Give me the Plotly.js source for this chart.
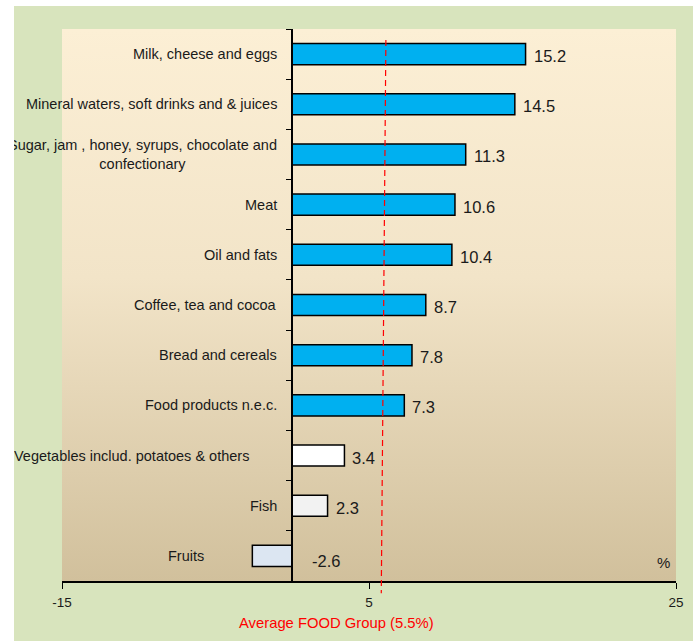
<!DOCTYPE html>
<html>
<head>
<meta charset="utf-8">
<script src="https://cdn.plot.ly/plotly-3.0.1.min.js"></script>
<style>
  html, body { margin: 0; padding: 0; background: #ffffff; overflow: hidden; }
  #chart { position: absolute; left: 14px; top: 6px; width: 679px; height: 635px; }
</style>
</head>
<body>
<div id="chart"></div>
<script>
// ---- data (top to bottom) ----
const categories = [
  "Milk, cheese and eggs",
  "Mineral waters, soft drinks and & juices",
  "Sugar, jam , honey, syrups, chocolate and<br>confectionary",
  "Meat",
  "Oil and fats",
  "Coffee, tea and cocoa",
  "Bread and cereals",
  "Food products n.e.c.",
  "Vegetables includ. potatoes & others",
  "Fish",
  "Fruits"
];
const values = [15.2, 14.5, 11.3, 10.6, 10.4, 8.7, 7.8, 7.3, 3.4, 2.3, -2.6];
const valueLabels = ["15.2", "14.5", "11.3", "10.6", "10.4", "8.7", "7.8", "7.3", "3.4", "2.3", "-2.6"];
const xTickVals = [-15, 5, 25];
const xTickText = ["-15", "5", "25"];
const avgFood = 5.5;                 // average FOOD group
const avgLineX = [6.1, 5.8];         // dashed line as drawn (top, bottom)
const avgLabel = "Average FOOD Group (5.5%)";

// ---- styles ----
const barColors = ["#00B0F0","#00B0F0","#00B0F0","#00B0F0","#00B0F0","#00B0F0","#00B0F0","#00B0F0",
                   "#FFFFFF","#F2F2F2","#DCE6F2"];
const labelShift = [0,0,0,0,0,0,0,0,-28,0,-73];   // px offsets of category labels
const FONT = "'Liberation Sans', Arial, sans-serif";
const xRange = [-15, 25];

const gradSvg = '<svg xmlns="http://www.w3.org/2000/svg" width="10" height="100" preserveAspectRatio="none">' +
  '<defs><linearGradient id="g" x1="0" y1="0" x2="0" y2="1">' +
  '<stop offset="0" stop-color="#FCEFD5"/><stop offset="0.45" stop-color="#F2E4C8"/>' +
  '<stop offset="1" stop-color="#D1C09C"/></linearGradient></defs>' +
  '<rect width="10" height="100" fill="url(#g)"/></svg>';
const gradUri = 'data:image/svg+xml;charset=utf-8,' + encodeURIComponent(gradSvg);

const trace = {
  type: 'bar',
  orientation: 'h',
  y: categories,
  x: values,
  width: 0.42,
  marker: { color: barColors, line: { color: '#000000', width: 1.5 } },
  hoverinfo: 'skip'
};

const annotations = [];
categories.forEach((c, i) => {
  annotations.push({
    x: 0, y: c, xref: 'x', yref: 'y',
    text: c, showarrow: false,
    xanchor: 'right', yanchor: 'middle', align: 'center',
    xshift: -13 + labelShift[i],
    font: { family: FONT, size: 14.5, color: '#1a1a1a' }
  });
  const v = values[i];
  annotations.push({
    x: Math.max(v, 0), y: c, xref: 'x', yref: 'y',
    text: valueLabels[i], showarrow: false,
    xanchor: 'left', yanchor: 'middle',
    xshift: v >= 0 ? 6 : 18, yshift: v >= 0 ? -2 : -5,
    font: { family: FONT, size: 16.5, color: '#1a1a1a' }
  });
});
annotations.push({
  x: 0.98, y: 0.034, xref: 'paper', yref: 'paper',
  text: '%', showarrow: false, xanchor: 'center', yanchor: 'middle',
  font: { family: FONT, size: 15, color: '#1a1a1a' }
});
annotations.push({
  x: 0.447, y: -0.0755, xref: 'paper', yref: 'paper',
  text: avgLabel, showarrow: false, xanchor: 'center', yanchor: 'middle',
  font: { family: FONT, size: 14.8, color: '#FF0000' }
});

const layout = {
  width: 679, height: 635,
  margin: { l: 48, r: 17, t: 23, b: 60, pad: 0 },
  paper_bgcolor: '#D8E4BD',
  plot_bgcolor: 'rgba(0,0,0,0)',
  showlegend: false,
  bargap: 0.5,
  xaxis: {
    range: xRange, tickvals: xTickVals, ticktext: xTickText,
    showgrid: false, zeroline: false,
    showline: true, linecolor: '#000000', linewidth: 2,
    ticks: 'outside', ticklen: 6, tickwidth: 1, tickcolor: '#000000',
    ticklabelstandoff: 2,
    tickfont: { family: FONT, size: 13.5, color: '#1a1a1a' },
    fixedrange: true
  },
  yaxis: {
    type: 'category', autorange: 'reversed',
    showticklabels: false, showgrid: false, zeroline: false,
    anchor: 'free', position: (0 - xRange[0]) / (xRange[1] - xRange[0]),
    showline: true, linecolor: '#000000', linewidth: 2,
    ticks: 'outside', tickson: 'boundaries', ticklen: 5, tickwidth: 1, tickcolor: '#000000',
    fixedrange: true
  },
  images: [{
    source: gradUri, xref: 'paper', yref: 'paper',
    x: 0, y: 1, sizex: 1, sizey: 1, xanchor: 'left', yanchor: 'top',
    sizing: 'stretch', layer: 'below'
  }],
  shapes: [{
    type: 'line', xref: 'x', yref: 'paper',
    x0: avgLineX[0], x1: avgLineX[1], y0: 0.98, y1: -0.022,
    line: { color: '#FF0000', width: 1.2, dash: '6px,4px' },
    layer: 'above'
  }],
  annotations: annotations
};

Plotly.newPlot('chart', [trace], layout, { displayModeBar: false, staticPlot: true });
</script>
</body>
</html>
